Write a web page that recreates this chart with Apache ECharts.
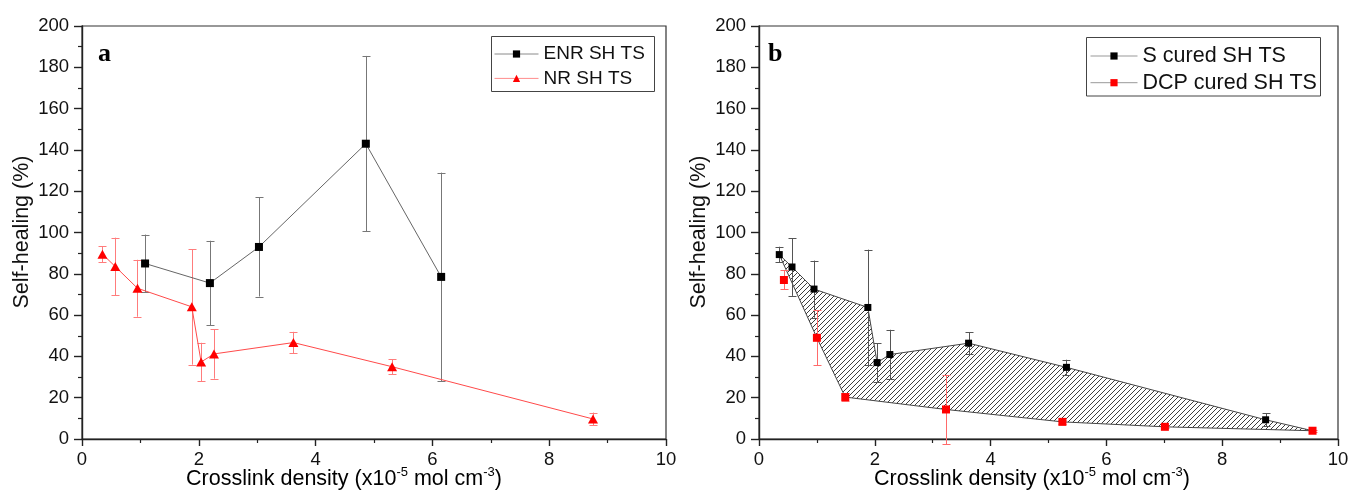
<!DOCTYPE html>
<html>
<head>
<meta charset="utf-8">
<script src="https://cdn.jsdelivr.net/npm/echarts@6/dist/echarts.min.js"></script>
<style>
  html, body { margin: 0; padding: 0; background: #fff; }
  #chart { width: 1352px; height: 504px; }
</style>
</head>
<body>
<div id="chart"></div>
<script>
// ---- Panel a: ENR vs NR self-healing of tensile strength ----
const enrX   = [1.08, 2.19, 3.03, 4.86, 6.15];
const enrY   = [85.0, 75.5, 93.0, 143.0, 78.5];
const enrErr = [14.0, 20.5, 24.0, 42.5, 50.5];

const nrX   = [0.35, 0.57, 0.95, 1.88, 2.04, 2.26, 3.62, 5.31, 8.75];
const nrY   = [89.5, 83.5, 73.0, 64.0, 37.3, 41.2, 46.7, 35.0, 9.7];
const nrErr = [3.8, 14.0, 13.8, 28.0, 9.3, 12.0, 5.2, 3.7, 3.1];

// ---- Panel b: sulfur cured vs DCP cured ----
const sX   = [0.35, 0.57, 0.95, 1.88, 2.04, 2.26, 3.62, 5.31, 8.75];
const sY   = [89.3, 83.3, 72.6, 63.7, 37.0, 40.9, 46.4, 34.7, 9.3];
const sErr = [3.8, 14.0, 13.8, 28.0, 9.3, 12.0, 5.2, 3.7, 3.1];

const dcpX   = [0.43, 1.00, 1.49, 3.23, 5.24, 7.01, 9.56];
const dcpY   = [77.0, 49.0, 20.3, 14.3, 8.3, 5.9, 4.0];
const dcpErr = [4.6, 13.3, 1.8, 16.8, 1.0, 0.8, 0.6];

// axis ticks
const xTicks = { min: 0, max: 10, interval: 2 };
const yTicks = { min: 0, max: 200, interval: 20 };

const FONT = "'Liberation Sans', Arial, sans-serif";
const SERIF = "'Liberation Serif', 'Times New Roman', serif";

const chart = echarts.init(document.getElementById('chart'), null, { renderer: 'canvas' });

// diagonal hatch tile for the region between the two cure systems
function hatchTile() {
  const s = 5;
  const c = document.createElement('canvas');
  c.width = s; c.height = s;
  const g = c.getContext('2d');
  g.strokeStyle = '#333';
  g.lineWidth = 0.95;
  g.beginPath();
  g.moveTo(-1, s + 1); g.lineTo(s + 1, -1);
  g.moveTo(-1, 1); g.lineTo(1, -1);
  g.moveTo(s - 1, s + 1); g.lineTo(s + 1, s - 1);
  g.stroke();
  return c;
}

function pairs(xs, ys) { return xs.map((x, i) => [x, ys[i]]); }

function errorBars(name, xs, ys, es, color, gi, capHalf) {
  return {
    type: 'custom',
    name: name + ' err',
    xAxisIndex: gi, yAxisIndex: gi,
    z: 2,
    silent: true,
    data: xs.map((x, i) => [x, ys[i] - es[i], ys[i] + es[i]]),
    renderItem: function (params, api) {
      const lo = api.coord([api.value(0), api.value(1)]);
      const hi = api.coord([api.value(0), api.value(2)]);
      const x = Math.round(lo[0]) + 0.5;
      const st = { stroke: color, lineWidth: 1 };
      return {
        type: 'group',
        children: [
          { type: 'line', shape: { x1: x, y1: hi[1], x2: x, y2: lo[1] }, style: st },
          { type: 'line', shape: { x1: x - capHalf, y1: Math.round(hi[1]) + 0.5, x2: x + capHalf, y2: Math.round(hi[1]) + 0.5 }, style: st },
          { type: 'line', shape: { x1: x - capHalf, y1: Math.round(lo[1]) + 0.5, x2: x + capHalf, y2: Math.round(lo[1]) + 0.5 }, style: st }
        ]
      };
    }
  };
}

function xAxisFor(gi) {
  return {
    type: 'value', gridIndex: gi,
    min: xTicks.min, max: xTicks.max, interval: xTicks.interval,
    axisLine: { show: true, onZero: false, lineStyle: { color: '#222', width: 1.4 } },
    axisTick: { show: true, inside: false, length: 7, lineStyle: { color: '#222', width: 1.4 } },
    minorTick: { show: true, splitNumber: 2, length: 4, lineStyle: { color: '#222', width: 1.2 } },
    splitLine: { show: false },
    axisLabel: { color: '#111', fontSize: 18.5, fontFamily: FONT, margin: 11 }
  };
}
function yAxisFor(gi) {
  return {
    type: 'value', gridIndex: gi,
    min: yTicks.min, max: yTicks.max, interval: yTicks.interval,
    axisLine: { show: true, onZero: false, lineStyle: { color: '#222', width: 1.4 } },
    axisTick: { show: true, inside: false, length: 8, lineStyle: { color: '#222', width: 1.4 } },
    minorTick: { show: true, splitNumber: 2, length: 4, lineStyle: { color: '#222', width: 1.2 } },
    splitLine: { show: false },
    axisLabel: { color: '#111', fontSize: 18.5, fontFamily: FONT, margin: 13 }
  };
}

const titleRich = {
  n: { fontSize: 21.5, fontFamily: FONT, color: '#111', lineHeight: 26 },
  s: { fontSize: 13, fontFamily: FONT, color: '#111', lineHeight: 26, verticalAlign: 'top' }
};
const xTitleText = '{n|Crosslink density (x10}{s|-5}{n| mol cm}{s|-3}{n|)}';

const option = {
  backgroundColor: '#fff',
  animation: false,
  grid: [
    { left: 82, top: 26, right: 686, bottom: 65, show: true, borderColor: '#333', borderWidth: 1.2, backgroundColor: 'transparent' },
    { left: 759, top: 26, right: 14, bottom: 65, show: true, borderColor: '#333', borderWidth: 1.2, backgroundColor: 'transparent' }
  ],
  xAxis: [xAxisFor(0), xAxisFor(1)],
  yAxis: [yAxisFor(0), yAxisFor(1)],
  legend: [
    {
      left: 494, top: 44, orient: 'vertical', padding: 0,
      itemWidth: 44, itemHeight: 9, itemGap: 4.4,
      textStyle: { fontSize: 19, fontFamily: FONT, color: '#111', lineHeight: 20 },
      data: [
        { name: 'ENR SH TS', lineStyle: { color: '#8a8a8a', width: 1 } },
        { name: 'NR SH TS', lineStyle: { color: '#ff8c8c', width: 1 } }
      ]
    },
    {
      left: 1090, top: 45, orient: 'vertical', padding: 0,
      itemWidth: 47, itemHeight: 9, itemGap: 4.7,
      textStyle: { fontSize: 21.5, fontFamily: FONT, color: '#111', lineHeight: 22 },
      lineStyle: { color: '#999', width: 1, opacity: 1 },
      data: ['S cured SH TS', 'DCP cured SH TS']
    }
  ],
  graphic: [
    { type: 'rect', shape: { x: 491.5, y: 36.5, width: 163, height: 55 }, style: { fill: 'none', stroke: '#444', lineWidth: 1 }, silent: true },
    { type: 'rect', shape: { x: 1086.5, y: 37.5, width: 234, height: 58.5 }, style: { fill: 'none', stroke: '#444', lineWidth: 1 }, silent: true },
    { type: 'text', x: 98, y: 54.5, style: { text: 'a', font: 'bold 26px ' + SERIF, fill: '#000', verticalAlign: 'middle' } },
    { type: 'text', x: 768, y: 54.5, style: { text: 'b', font: 'bold 26px ' + SERIF, fill: '#000', verticalAlign: 'middle' } },
    { type: 'text', x: 22, y: 232, rotation: Math.PI / 2, style: { text: 'Self-healing (%)', fontSize: 21.5, fontFamily: FONT, fill: '#111', align: 'center', verticalAlign: 'middle' } },
    { type: 'text', x: 699, y: 232, rotation: Math.PI / 2, style: { text: 'Self-healing (%)', fontSize: 21.5, fontFamily: FONT, fill: '#111', align: 'center', verticalAlign: 'middle' } },
    { type: 'text', x: 344, y: 479, style: { text: xTitleText, rich: titleRich, align: 'center', verticalAlign: 'middle' } },
    { type: 'text', x: 1032, y: 479, style: { text: xTitleText, rich: titleRich, align: 'center', verticalAlign: 'middle' } }
  ],
  series: [
    // panel a
    errorBars('ENR SH TS', enrX, enrY, enrErr, '#777', 0, 4),
    errorBars('NR SH TS', nrX, nrY, nrErr, '#ff7c7c', 0, 4),
    {
      name: 'ENR SH TS', type: 'line', xAxisIndex: 0, yAxisIndex: 0, z: 3,
      data: pairs(enrX, enrY),
      symbol: 'rect', symbolSize: 8,
      itemStyle: { color: '#000' },
      lineStyle: { color: '#666', width: 1 }
    },
    {
      name: 'NR SH TS', type: 'line', xAxisIndex: 0, yAxisIndex: 0, z: 3,
      data: pairs(nrX, nrY),
      symbol: 'triangle', symbolSize: [10, 9],
      itemStyle: { color: '#ff0000' },
      lineStyle: { color: '#ff4a4a', width: 1 }
    },
    // panel b: hatched band between the two cure systems
    {
      type: 'custom', xAxisIndex: 1, yAxisIndex: 1, z: 1, silent: true,
      data: [0],
      renderItem: function (params, api) {
        const pts = [];
        for (let i = 0; i < sX.length; i++) pts.push(api.coord([sX[i], sY[i]]));
        for (let i = dcpX.length - 1; i >= 1; i--) pts.push(api.coord([dcpX[i], dcpY[i]]));
        return {
          type: 'polygon',
          shape: { points: pts },
          style: { fill: { image: hatchTile(), repeat: 'repeat' }, stroke: '#444', lineWidth: 1 }
        };
      }
    },
    errorBars('S cured SH TS', sX, sY, sErr, '#555', 1, 4),
    errorBars('DCP cured SH TS', dcpX, dcpY, dcpErr, '#ff6a6a', 1, 4),
    {
      name: 'S cured SH TS', type: 'line', xAxisIndex: 1, yAxisIndex: 1, z: 3,
      data: pairs(sX, sY),
      symbol: 'rect', symbolSize: 7,
      itemStyle: { color: '#000' },
      lineStyle: { color: '#999', width: 1, opacity: 0 }
    },
    {
      name: 'DCP cured SH TS', type: 'line', xAxisIndex: 1, yAxisIndex: 1, z: 3,
      data: pairs(dcpX, dcpY),
      symbol: 'rect', symbolSize: 8,
      itemStyle: { color: '#ff0000' },
      lineStyle: { color: '#999', width: 1, opacity: 0 }
    }
  ]
};

chart.setOption(option);
</script>
</body>
</html>
